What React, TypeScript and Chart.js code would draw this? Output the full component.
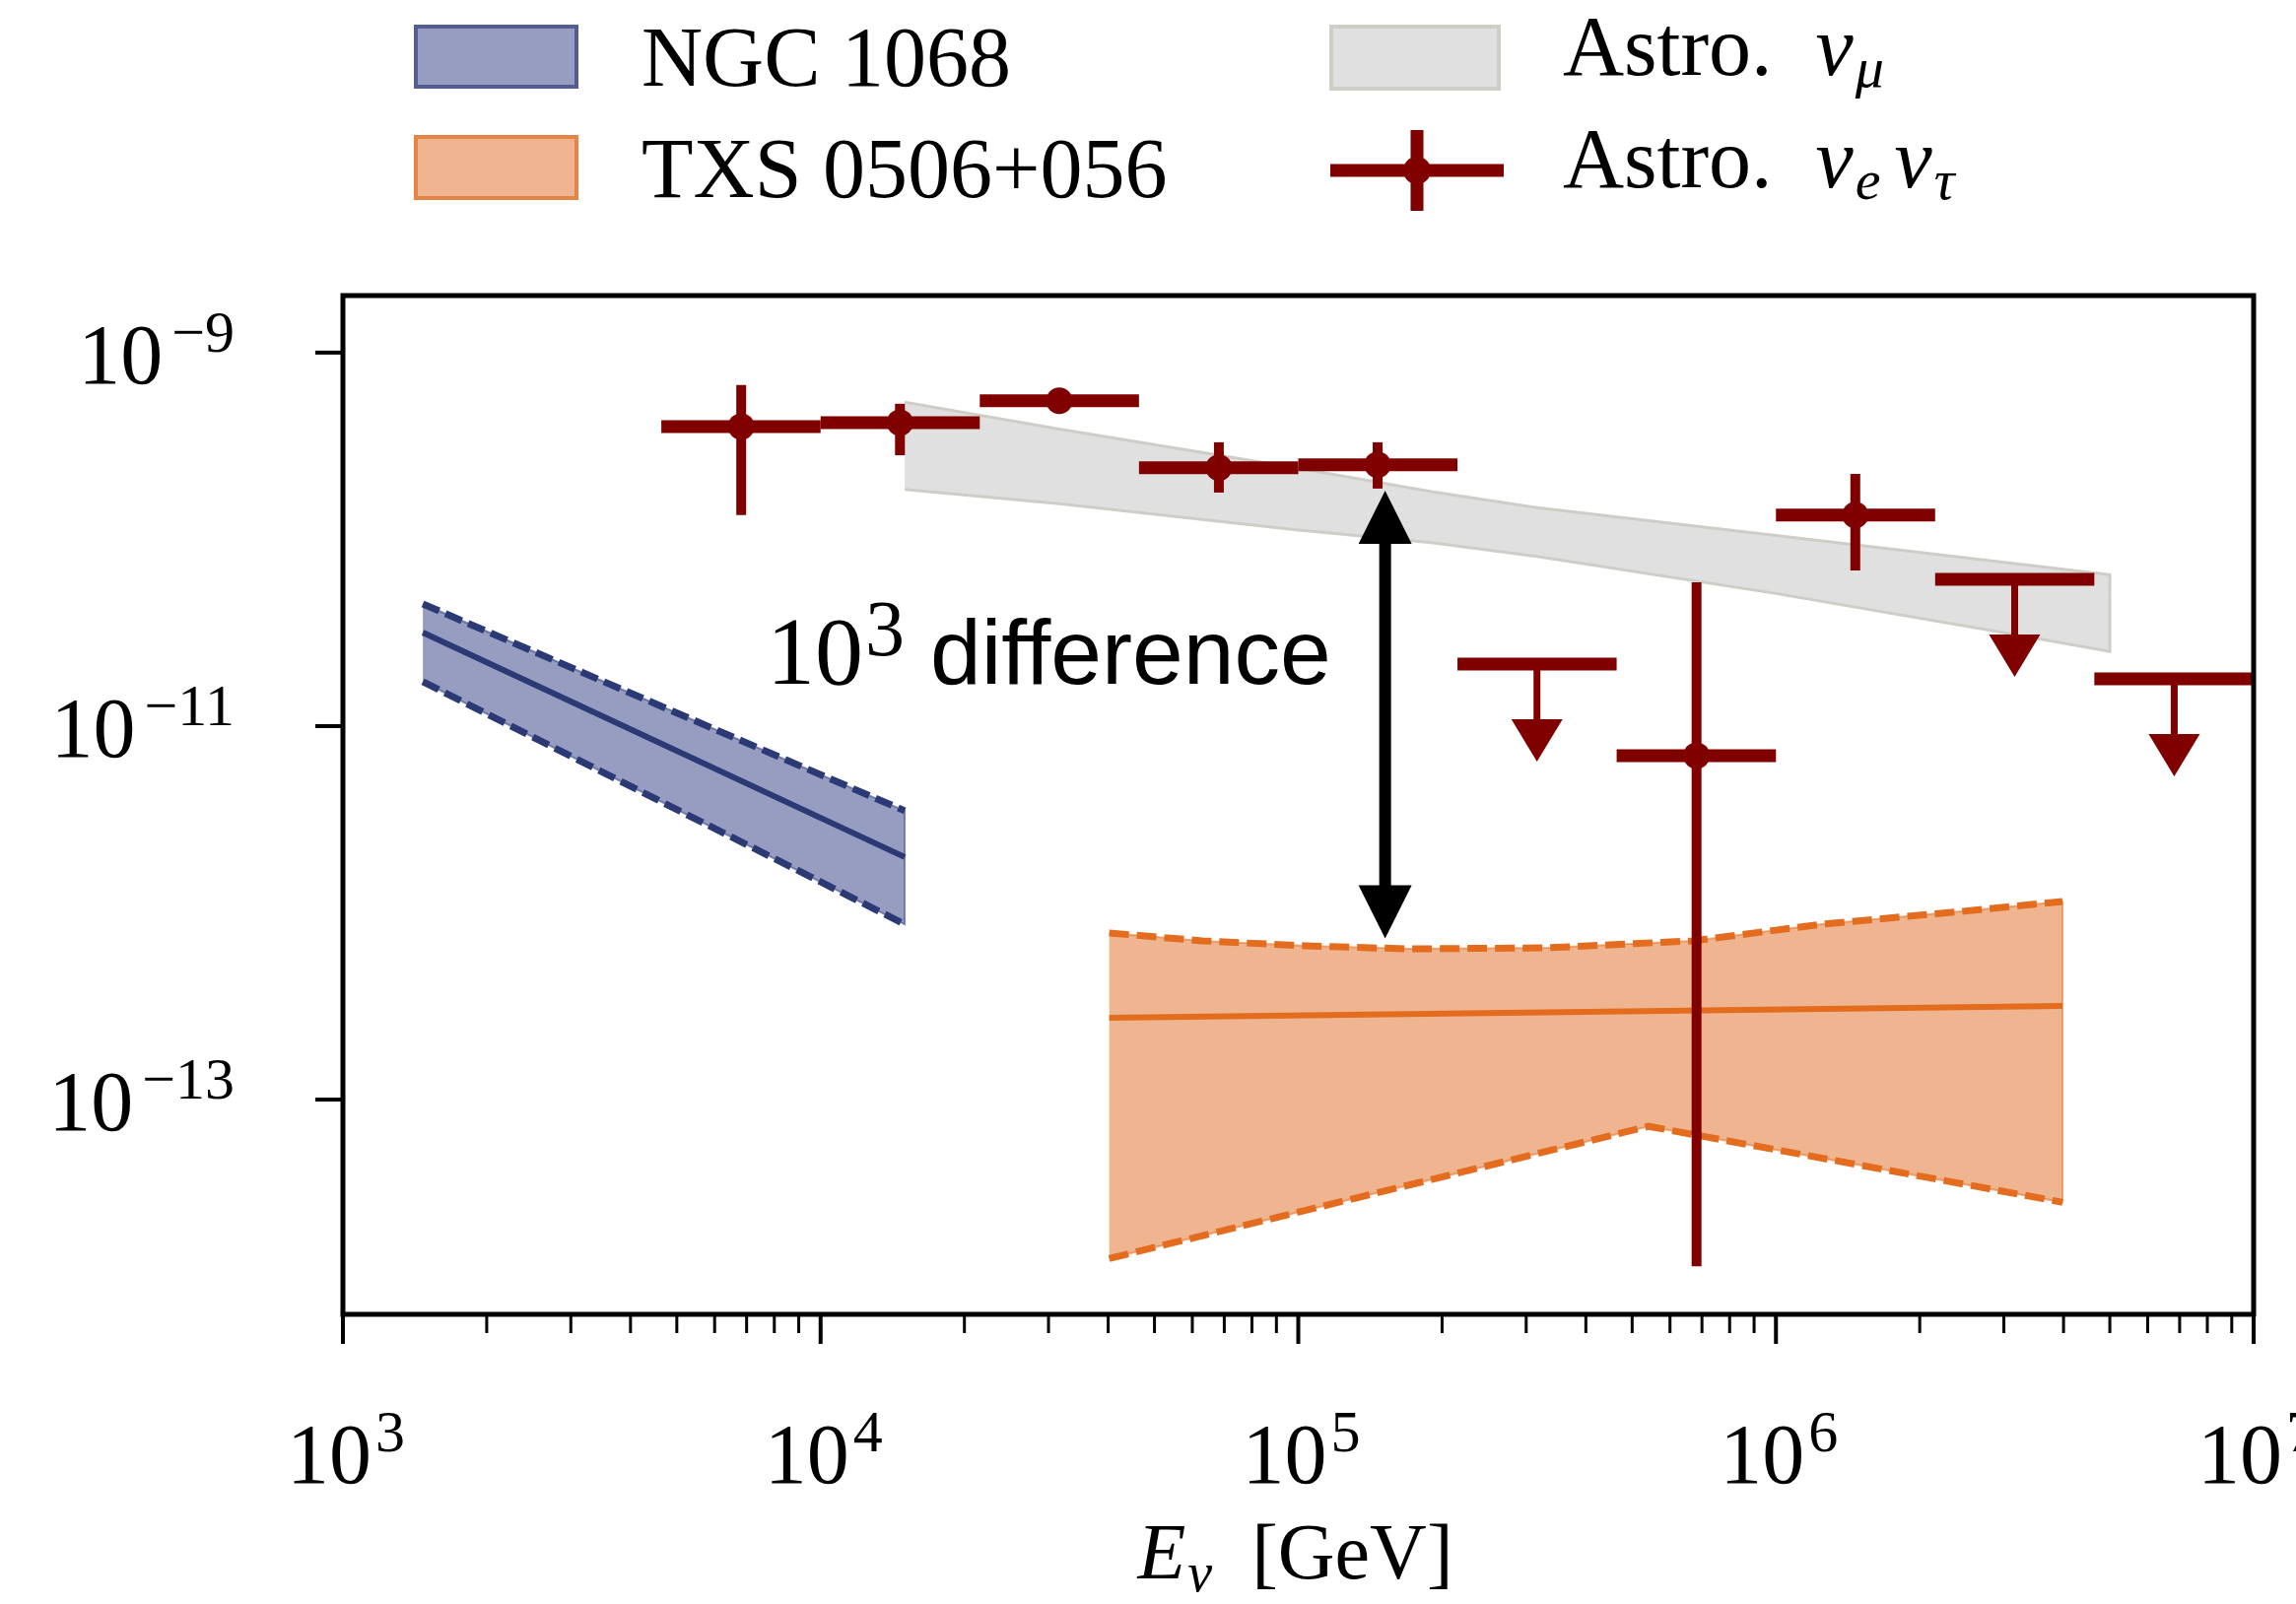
import React, { useEffect, useRef } from "react";
import { Chart, registerables } from "chart.js";

Chart.register(...registerables);

// ---------------- axes ----------------
const X_MIN = 1e3;
const X_MAX = 1e7;
const Y_MIN = 7.08e-15;
const Y_MAX = 2.02e-9;
const X_MAJOR_TICKS = [1e3, 1e4, 1e5, 1e6, 1e7];
const X_TICK_EXPONENTS = ["3", "4", "5", "6", "7"];
const MINOR_MULTIPLIERS = [2, 3, 4, 5, 6, 7, 8, 9];
const X_MINOR_TICKS = [1e3, 1e4, 1e5, 1e6].flatMap((d) => MINOR_MULTIPLIERS.map((m) => m * d));
const Y_MAJOR_TICKS = [1e-9, 1e-11, 1e-13];
const Y_TICK_EXPONENTS = ["\u22129", "\u221211", "\u221213"];

// ---------------- Astro nu_e nu_tau (cascades) ----------------
const CASCADE_E = [6.82e3, 1.466e4, 3.16e4, 6.82e4, 1.466e5, 6.82e5, 1.466e6];
const CASCADE_E_LO = [4.64e3, 1e4, 2.154e4, 4.64e4, 1e5, 4.64e5, 1e6];
const CASCADE_E_HI = [1e4, 2.154e4, 4.64e4, 1e5, 2.154e5, 1e6, 2.154e6];
const CASCADE_FLUX = [4.02e-10, 4.22e-10, 5.52e-10, 2.42e-10, 2.51e-10, 6.95e-12, 1.35e-10];
const CASCADE_FLUX_LO = [1.35e-10, 2.82e-10, 5.1e-10, 1.78e-10, 1.87e-10, 1.28e-14, 6.82e-11];
const CASCADE_FLUX_HI = [6.7e-10, 5.32e-10, 5.9e-10, 3.31e-10, 3.31e-10, 5.89e-11, 2.24e-10];

// upper limits
const UL_E = [3.16e5, 3.16e6, 6.82e6];
const UL_E_LO = [2.154e5, 2.154e6, 4.64e6];
const UL_E_HI = [4.64e5, 4.64e6, 1e7];
const UL_FLUX = [2.15e-11, 6.11e-11, 1.79e-11];

// ---------------- Astro nu_mu band ----------------
const NUMU_E = [1.5e4, 3.16e4, 1e5, 1.9e5, 3.16e5, 1e6, 3.16e6, 5.0e6];
const NUMU_UP = [5.43e-10, 3.89e-10, 2.4e-10, 1.8e-10, 1.48e-10, 1.05e-10, 7.41e-11, 6.46e-11];
const NUMU_LO = [1.85e-10, 1.55e-10, 1.12e-10, 9.6e-11, 8.1e-11, 5.13e-11, 3.09e-11, 2.51e-11];

// ---------------- NGC 1068 ----------------
const NGC_E = [1.47e3, 1.5e4];
const NGC_UP = [4.51e-11, 3.52e-12];
const NGC_MID = [3.17e-11, 1.99e-12];
const NGC_LO = [1.73e-11, 8.69e-13];

// ---------------- TXS 0506+056 ----------------
const TXS_UP_E = [4.02e4, 6.3e4, 1.04e5, 1.71e5, 3.33e5, 6.7e5, 1.26e6, 2.47e6, 3.98e6];
const TXS_UP = [7.8e-13, 7.08e-13, 6.65e-13, 6.41e-13, 6.5e-13, 7.08e-13, 8.71e-13, 1.02e-12, 1.15e-12];
const TXS_MID_E = [4.02e4, 3.98e6];
const TXS_MID = [2.74e-13, 3.17e-13];
const TXS_LO_E = [4.02e4, 5.41e5, 3.98e6];
const TXS_LO = [1.41e-14, 7.19e-14, 2.82e-14];

// ---------------- annotation ----------------
const ARROW_E = 1.52e5;
const ARROW_TOP = 1.82e-10;
const ARROW_BOTTOM = 7.3e-13;
const ANNOT_BASELINE_FLUX = 1.69e-11;

// ---------------- colours ----------------
const RED = "#800000";
const NGC_FILL = "#969dc0";
const NGC_LINE = "#2b3975";
const TXS_FILL = "#efb590";
const TXS_LINE = "#e36c1e";
const GREY_FILL = "#e0e0e0";
const GREY_EDGE = "#cdcfc6";

const SERIF = '"Liberation Serif", "Times New Roman", serif';
const SANS = '"Liberation Sans", Arial, sans-serif';

const LEGEND_LABELS = ["NGC 1068", "TXS 0506+056", "Astro.", "Astro."];

const pts = (xs: number[], ys: number[]) => xs.map((x, i) => ({ x, y: ys[i] }));
const polygon = (xu: number[], yu: number[], xl: number[], yl: number[]) =>
  pts(xu, yu).concat(pts(xl, yl).reverse());

type Part = { text?: string; font?: string; dx?: number; dy?: number };

function partsWidth(ctx: CanvasRenderingContext2D, parts: Part[]) {
  let w = 0;
  for (const p of parts) {
    w += p.dx || 0;
    if (p.text) {
      ctx.font = p.font!;
      w += ctx.measureText(p.text).width;
    }
  }
  return w;
}

function drawParts(ctx: CanvasRenderingContext2D, x: number, y: number, parts: Part[]) {
  let cx = x;
  for (const p of parts) {
    cx += p.dx || 0;
    if (p.text) {
      ctx.font = p.font!;
      ctx.fillText(p.text, cx, y + (p.dy || 0));
      cx += ctx.measureText(p.text).width;
    }
  }
  return cx;
}

const CASCADE_INDEX = 0;

const decorPlugin = {
  id: "decor",
  beforeDatasetDraw(chart: any, args: any) {
    if (args.index !== CASCADE_INDEX) return;
    const ctx: CanvasRenderingContext2D = chart.ctx;
    const xs = chart.scales.x;
    const ys = chart.scales.y;
    ctx.save();
    ctx.strokeStyle = RED;
    ctx.lineCap = "butt";
    for (let i = 0; i < CASCADE_E.length; i++) {
      const x = xs.getPixelForValue(CASCADE_E[i]);
      const y = ys.getPixelForValue(CASCADE_FLUX[i]);
      ctx.lineWidth = 13;
      ctx.beginPath();
      ctx.moveTo(xs.getPixelForValue(CASCADE_E_LO[i]), y);
      ctx.lineTo(xs.getPixelForValue(CASCADE_E_HI[i]), y);
      ctx.stroke();
      ctx.lineWidth = 10;
      ctx.beginPath();
      ctx.moveTo(x, ys.getPixelForValue(CASCADE_FLUX_HI[i]));
      ctx.lineTo(x, ys.getPixelForValue(CASCADE_FLUX_LO[i]));
      ctx.stroke();
    }
    ctx.restore();
  },
  afterDatasetsDraw(chart: any) {
    const ctx: CanvasRenderingContext2D = chart.ctx;
    const xs = chart.scales.x;
    const ys = chart.scales.y;
    const area = chart.chartArea;
    ctx.save();
    ctx.lineCap = "butt";

    // upper limits
    ctx.strokeStyle = RED;
    ctx.fillStyle = RED;
    for (let i = 0; i < UL_E.length; i++) {
      const x = xs.getPixelForValue(UL_E[i]);
      const y = ys.getPixelForValue(UL_FLUX[i]);
      ctx.lineWidth = 13;
      ctx.beginPath();
      ctx.moveTo(xs.getPixelForValue(UL_E_LO[i]), y);
      ctx.lineTo(xs.getPixelForValue(UL_E_HI[i]), y);
      ctx.stroke();
      ctx.lineWidth = 7;
      ctx.beginPath();
      ctx.moveTo(x, y);
      ctx.lineTo(x, y + 60);
      ctx.stroke();
      ctx.beginPath();
      ctx.moveTo(x - 26, y + 56);
      ctx.lineTo(x + 26, y + 56);
      ctx.lineTo(x, y + 99);
      ctx.closePath();
      ctx.fill();
    }

    // double arrow annotation
    const ax = xs.getPixelForValue(ARROW_E);
    const at = ys.getPixelForValue(ARROW_TOP);
    const ab = ys.getPixelForValue(ARROW_BOTTOM);
    ctx.strokeStyle = "#000";
    ctx.fillStyle = "#000";
    ctx.lineWidth = 12;
    ctx.beginPath();
    ctx.moveTo(ax, at + 50);
    ctx.lineTo(ax, ab - 50);
    ctx.stroke();
    ctx.beginPath();
    ctx.moveTo(ax, at);
    ctx.lineTo(ax - 27, at + 54);
    ctx.lineTo(ax + 27, at + 54);
    ctx.closePath();
    ctx.fill();
    ctx.beginPath();
    ctx.moveTo(ax, ab);
    ctx.lineTo(ax - 27, ab - 54);
    ctx.lineTo(ax + 27, ab - 54);
    ctx.closePath();
    ctx.fill();

    // annotation text
    ctx.textBaseline = "alphabetic";
    ctx.textAlign = "left";
    const annot: Part[] = [
      { text: "10", font: `98px ${SERIF}` },
      { text: "3", font: `80px ${SERIF}`, dx: 2, dy: -29 },
      { text: "difference", font: `93px ${SANS}`, dx: 26 },
    ];
    const aw = partsWidth(ctx, annot);
    drawParts(ctx, ax - 55 - aw, ys.getPixelForValue(ANNOT_BASELINE_FLUX), annot);

    // frame
    ctx.strokeStyle = "#000";
    ctx.lineWidth = 5;
    ctx.strokeRect(area.left, area.top, area.right - area.left, area.bottom - area.top);

    // x ticks
    ctx.lineWidth = 4;
    for (const v of X_MAJOR_TICKS) {
      const x = xs.getPixelForValue(v);
      ctx.beginPath();
      ctx.moveTo(x, area.bottom);
      ctx.lineTo(x, area.bottom + 30);
      ctx.stroke();
    }
    ctx.lineWidth = 3;
    for (const v of X_MINOR_TICKS) {
      const x = xs.getPixelForValue(v);
      ctx.beginPath();
      ctx.moveTo(x, area.bottom);
      ctx.lineTo(x, area.bottom + 19);
      ctx.stroke();
    }
    // y ticks
    ctx.lineWidth = 4;
    for (const v of Y_MAJOR_TICKS) {
      const y = ys.getPixelForValue(v);
      ctx.beginPath();
      ctx.moveTo(area.left, y);
      ctx.lineTo(area.left - 28, y);
      ctx.stroke();
    }

    // tick labels
    ctx.fillStyle = "#000";
    const FMAIN = `86px ${SERIF}`;
    const FSUP = `60px ${SERIF}`;
    X_MAJOR_TICKS.forEach((v, i) => {
      const x = xs.getPixelForValue(v);
      const parts: Part[] = [
        { text: "10", font: FMAIN },
        { text: X_TICK_EXPONENTS[i], font: FSUP, dx: 4, dy: -32 },
      ];
      const w = partsWidth(ctx, parts);
      drawParts(ctx, x + 3 - w / 2, area.bottom + 171, parts);
    });
    Y_MAJOR_TICKS.forEach((v, i) => {
      const y = ys.getPixelForValue(v);
      const parts: Part[] = [
        { text: "10", font: FMAIN },
        { text: Y_TICK_EXPONENTS[i], font: FSUP, dx: 9, dy: -32 },
      ];
      const w = partsWidth(ctx, parts);
      drawParts(ctx, area.left - 110 - w, y + 31, parts);
    });

    // x axis title
    const title: Part[] = [
      { text: "E", font: `italic 80px ${SERIF}` },
      { text: "\u03BD", font: `italic 56px ${SERIF}`, dx: 2, dy: 13 },
      { text: "[GeV]", font: `80px ${SERIF}`, dx: 40 },
    ];
    const tw = partsWidth(ctx, title);
    drawParts(ctx, (area.left + area.right) / 2 - 3 - tw / 2, area.bottom + 268, title);

    // legend
    const patch = (x0: number, y0: number, x1: number, y1: number, fill: string, edge: string) => {
      ctx.fillStyle = fill;
      ctx.fillRect(x0, y0, x1 - x0, y1 - y0);
      ctx.strokeStyle = edge;
      ctx.lineWidth = 4;
      ctx.strokeRect(x0 + 2, y0 + 2, x1 - x0 - 4, y1 - y0 - 4);
    };
    patch(420, 25, 587, 90, NGC_FILL, "rgba(60,72,130,0.75)");
    patch(420, 137, 587, 203, TXS_FILL, "rgba(228,120,50,0.8)");
    patch(1349, 25, 1523, 92, GREY_FILL, GREY_EDGE);
    ctx.strokeStyle = RED;
    ctx.fillStyle = RED;
    ctx.lineWidth = 13;
    ctx.beginPath();
    ctx.moveTo(1350, 173);
    ctx.lineTo(1526, 173);
    ctx.moveTo(1438, 132);
    ctx.lineTo(1438, 214);
    ctx.stroke();
    ctx.beginPath();
    ctx.arc(1438, 173, 14, 0, Math.PI * 2);
    ctx.fill();

    ctx.fillStyle = "#000";
    const FLEG = `86px ${SERIF}`;
    const FLEGI = `italic 86px ${SERIF}`;
    const FLEGS = `italic 58px ${SERIF}`;
    drawParts(ctx, 651, 87, [{ text: LEGEND_LABELS[0], font: FLEG }]);
    drawParts(ctx, 651, 200, [{ text: LEGEND_LABELS[1], font: FLEG }]);
    drawParts(ctx, 1586, 76, [
      { text: LEGEND_LABELS[2], font: FLEG },
      { text: "\u03BD", font: FLEGI, dx: 44 },
      { text: "\u03BC", font: FLEGS, dx: 2, dy: 12 },
    ]);
    drawParts(ctx, 1586, 190, [
      { text: LEGEND_LABELS[3], font: FLEG },
      { text: "\u03BD", font: FLEGI, dx: 44 },
      { text: "e", font: FLEGS, dx: 2, dy: 12 },
      { text: "\u03BD", font: FLEGI, dx: 14 },
      { text: "\u03C4", font: FLEGS, dx: 2, dy: 12 },
    ]);
    ctx.restore();
  },
};

export default function App() {
  const ref = useRef<HTMLCanvasElement | null>(null);

  useEffect(() => {
    if (!ref.current) return;
    const line = (data: any[], color: string, width: number, dash: number[], order: number) => ({
      data,
      showLine: true,
      borderColor: color,
      borderWidth: width,
      borderDash: dash,
      pointRadius: 0,
      fill: false,
      tension: 0,
      order,
    });
    const shape = (data: any[], fill: string, edge: string, width: number, order: number) => ({
      data,
      showLine: true,
      backgroundColor: fill,
      borderColor: edge,
      borderWidth: width,
      pointRadius: 0,
      fill: "shape",
      tension: 0,
      order,
    });
    const chart = new Chart(ref.current, {
      type: "scatter",
      data: {
        datasets: [
          {
            label: "Astro. nu_e nu_tau",
            data: pts(CASCADE_E, CASCADE_FLUX),
            showLine: false,
            pointRadius: 13.5,
            pointBackgroundColor: RED,
            pointBorderWidth: 0,
            order: 0,
          } as any,
          shape(polygon(NGC_E, NGC_UP, NGC_E, NGC_LO), NGC_FILL, "rgba(60,72,130,0.6)", 2, 4),
          line(pts(NGC_E, NGC_UP), NGC_LINE, 7, [18, 7], 3),
          line(pts(NGC_E, NGC_LO), NGC_LINE, 7, [18, 7], 3),
          line(pts(NGC_E, NGC_MID), NGC_LINE, 6, [], 3),
          shape(polygon(TXS_UP_E, TXS_UP, TXS_LO_E, TXS_LO), TXS_FILL, "rgba(228,120,50,0.6)", 2, 6),
          line(pts(TXS_UP_E, TXS_UP), TXS_LINE, 7, [20, 8], 5),
          line(pts(TXS_LO_E, TXS_LO), TXS_LINE, 7, [20, 8], 5),
          line(pts(TXS_MID_E, TXS_MID), TXS_LINE, 6, [], 5),
          shape(polygon(NUMU_E, NUMU_UP, NUMU_E, NUMU_LO), GREY_FILL, GREY_EDGE, 3, 7),
        ],
      },
      options: {
        responsive: false,
        devicePixelRatio: 1,
        animation: false,
        events: [],
        layout: { padding: { left: 348, right: 43, top: 300, bottom: 294 } },
        plugins: { legend: { display: false }, tooltip: { enabled: false }, title: { display: false } },
        scales: {
          x: { type: "logarithmic", min: X_MIN, max: X_MAX, display: false },
          y: { type: "logarithmic", min: Y_MIN, max: Y_MAX, display: false },
        },
      } as any,
      plugins: [decorPlugin as any],
    });
    return () => chart.destroy();
  }, []);

  return (
    <div style={{ position: "absolute", left: 0, top: 0, width: 2330, height: 1628, background: "#fff" }}>
      <canvas ref={ref} width={2330} height={1628} style={{ display: "block" }} />
    </div>
  );
}
